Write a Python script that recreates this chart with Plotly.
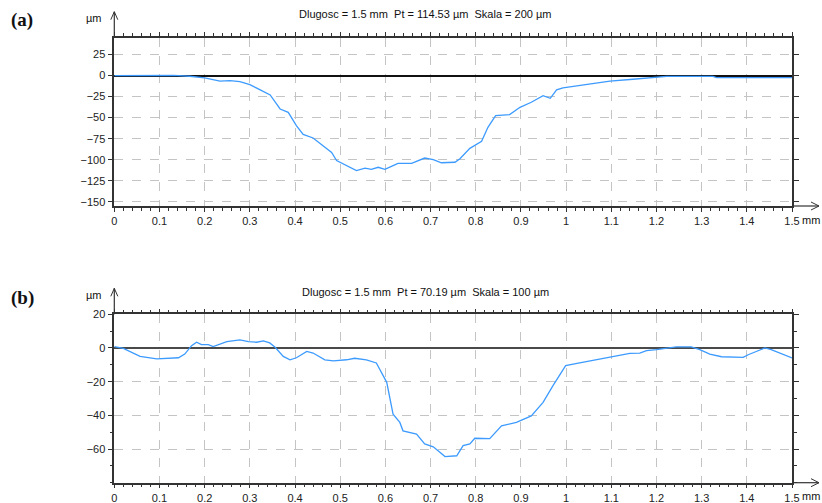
import plotly.graph_objects as go

# ---------------- data ----------------
xa = [0.0, 0.09, 0.13, 0.167, 0.20, 0.234, 0.256, 0.278, 0.300, 0.323, 0.345, 0.367, 0.385,
      0.403, 0.418, 0.440, 0.462, 0.481, 0.492, 0.514, 0.536, 0.555, 0.569, 0.584, 0.599,
      0.617, 0.628, 0.658, 0.687, 0.706, 0.724, 0.754, 0.765, 0.787, 0.813, 0.827, 0.844,
      0.875, 0.898, 0.923, 0.949, 0.965, 0.979, 0.993, 1.038, 1.097, 1.148, 1.192, 1.222,
      1.325, 1.333, 1.5]
ya = [0.0, 0.3, 0.3, -0.8, -2.8, -6.5, -6.0, -7.1, -10.7, -17.0, -23.0, -39.7, -43.7,
      -59.5, -70.0, -74.2, -83.3, -91.3, -101.0, -107.0, -113.0, -110.0, -111.5, -109.0, -111.5,
      -107.0, -104.4, -104.4, -98.0, -100.0, -103.6, -103.0, -98.8, -86.5, -78.0, -61.5, -47.6,
      -46.4, -37.7, -31.7, -23.8, -27.0, -17.0, -14.7, -11.0, -6.7, -4.4, -2.0, -1.0,
      -1.0, -2.5, -2.5]

xb = [0.0, 0.02, 0.057, 0.094, 0.142, 0.156, 0.171, 0.182, 0.193, 0.208, 0.219, 0.249,
      0.278, 0.297, 0.315, 0.330, 0.344, 0.356, 0.374, 0.389, 0.403, 0.426, 0.440, 0.466,
      0.485, 0.514, 0.532, 0.558, 0.580, 0.603, 0.617, 0.632, 0.639, 0.669, 0.687, 0.706,
      0.732, 0.758, 0.772, 0.787, 0.798, 0.831, 0.857, 0.890, 0.923, 0.949, 0.971, 0.999,
      1.030, 1.097, 1.141, 1.163, 1.178, 1.200, 1.244, 1.277, 1.296, 1.318, 1.344, 1.392,
      1.403, 1.440, 1.454, 1.5]
yb = [0.8, -0.2, -5.0, -6.5, -5.8, -3.6, 1.4, 3.4, 2.0, 2.0, 0.8, 3.8,
      4.8, 3.8, 3.4, 4.2, 3.0, 0.4, -5.0, -7.0, -5.8, -2.0, -3.0, -7.0,
      -7.7, -7.0, -6.1, -7.1, -8.9, -20.4, -39.3, -44.2, -49.2, -51.2, -57.0, -58.7,
      -64.5, -64.0, -58.0, -57.0, -53.6, -53.8, -46.2, -44.2, -40.3, -32.3, -22.4, -10.5,
      -8.9, -5.6, -3.2, -3.0, -1.6, -1.0, 0.6, 0.6, -1.0, -3.6, -5.2, -5.6,
      -4.0, 0.0, -1.0, -5.9]

x_ticks = [0, 0.1, 0.2, 0.3, 0.4, 0.5, 0.6, 0.7, 0.8, 0.9, 1.0, 1.1, 1.2, 1.3, 1.4, 1.5]
x_ticktext = ["0", "0.1", "0.2", "0.3", "0.4", "0.5", "0.6", "0.7", "0.8", "0.9", "1",
              "1.1", "1.2", "1.3", "1.4", "1.5"]
ya_ticks = [25, 0, -25, -50, -75, -100, -125, -150]
yb_ticks = [20, 0, -20, -40, -60]
ya_range = [-155, 45]
yb_range = [-80, 20]

title_a = "Dlugosc = 1.5 mm  Pt = 114.53 µm  Skala = 200 µm"
title_b = "Dlugosc = 1.5 mm  Pt = 70.19 µm  Skala = 100 µm"

# ---------------- layout helpers ----------------
W, H = 822, 503
def PX(v): return v / W
def PY(v): return 1 - v / H

LEFT, RIGHT = 114.3, 792.0
A_TOP, A_BOT = 37.7, 206.0
B_TOP, B_BOT = 314.3, 482.7

FONT = "Liberation Sans, Arial, sans-serif"
LINE_COLOR = "#3d9bff"
GRID = "#c4c4c4"
AXC = "#333333"

fig = go.Figure()
fig.add_trace(go.Scatter(x=xa, y=ya, mode="lines", line=dict(color=LINE_COLOR, width=1.3),
                         xaxis="x", yaxis="y", showlegend=False))
fig.add_trace(go.Scatter(x=xb, y=yb, mode="lines", line=dict(color=LINE_COLOR, width=1.3),
                         xaxis="x2", yaxis="y2", showlegend=False))

def xaxis(anchor):
    return dict(domain=[PX(LEFT), PX(RIGHT)], anchor=anchor, range=[0, 1.5], automargin=False,
                tickvals=x_ticks, ticktext=x_ticktext, ticks="outside", ticklen=4,
                tickcolor=AXC, tickwidth=1,
                minor=dict(dtick=0.02, tick0=0, ticks="outside", ticklen=3, tickcolor=AXC,
                           showgrid=False),
                showline=True, linecolor=AXC, linewidth=1.5, mirror="ticks",
                showgrid=True, gridcolor=GRID, griddash="dash", gridwidth=1,
                zeroline=False, tickfont=dict(family=FONT, size=11, color="#222"))

def yaxis(anchor, dom, rng, tv, zc, minor_dtick=None):
    d = dict(domain=dom, anchor=anchor, range=rng, tickvals=tv, ticks="outside", ticklen=5,
             automargin=False, tickcolor=AXC, tickwidth=1,
             showline=True, linecolor=AXC, linewidth=1.5, mirror="ticks",
             showgrid=True, gridcolor=GRID, griddash="dash", gridwidth=1,
             zeroline=True, zerolinecolor=zc, zerolinewidth=1.5,
             tickfont=dict(family=FONT, size=11, color="#222"))
    if minor_dtick:
        d["minor"] = dict(dtick=minor_dtick, ticks="outside", ticklen=3, tickcolor=AXC,
                          showgrid=False)
    return d

fig.update_layout(
    width=W, height=H, margin=dict(l=0, r=0, t=0, b=0, autoexpand=False),
    paper_bgcolor="white", plot_bgcolor="white",
    xaxis=xaxis("y"),
    yaxis=yaxis("x", [PY(A_BOT), PY(A_TOP)], ya_range, ya_ticks, "#111"),
    xaxis2=xaxis("y2"),
    yaxis2=yaxis("x2", [PY(B_BOT), PY(B_TOP)], yb_range, yb_ticks, "#4a4a4a", minor_dtick=10),
)

ann = []
def text(x, y, s, size=11, family=FONT, bold=False, xanchor="center"):
    ann.append(dict(x=PX(x), y=PY(y), xref="paper", yref="paper", text=("<b>%s</b>" % s) if bold else s,
                    showarrow=False, xanchor=xanchor, yanchor="middle",
                    font=dict(family=family, size=size, color="#111")))

text(425, 14, title_a)
text(425, 291.5, title_b)
text(94, 18, "µm")
text(94, 295, "µm")
text(22, 20, "(a)", size=19, family="Liberation Serif, Times New Roman, serif", bold=True)
text(22, 298, "(b)", size=19, family="Liberation Serif, Times New Roman, serif", bold=True)
text(800, 220, "mm", xanchor="left")
text(800, 496, "mm", xanchor="left")
fig.update_layout(annotations=ann)

shapes = []
def seg(x0, y0, x1, y1, w=1.0):
    shapes.append(dict(type="line", xref="paper", yref="paper", x0=PX(x0), y0=PY(y0),
                       x1=PX(x1), y1=PY(y1), line=dict(color=AXC, width=w)))

for top, bot in [(A_TOP, A_BOT), (B_TOP, B_BOT)]:
    tip_y = top - 26
    seg(LEFT, top, LEFT, tip_y, 1.2)
    seg(LEFT - 3.5, tip_y + 8, LEFT, tip_y)
    seg(LEFT + 3.5, tip_y + 8, LEFT, tip_y)
    tip_x = 819
    seg(RIGHT, bot, tip_x, bot, 1.2)
    seg(tip_x - 8, bot - 4, tip_x, bot)
    seg(tip_x - 8, bot + 4, tip_x, bot)
fig.update_layout(shapes=shapes)

fig.write_html("out.html", config={"displayModeBar": False},
               post_script="document.body.style.margin='0';document.body.style.padding='0';"
                           "document.documentElement.style.overflow='hidden';")
